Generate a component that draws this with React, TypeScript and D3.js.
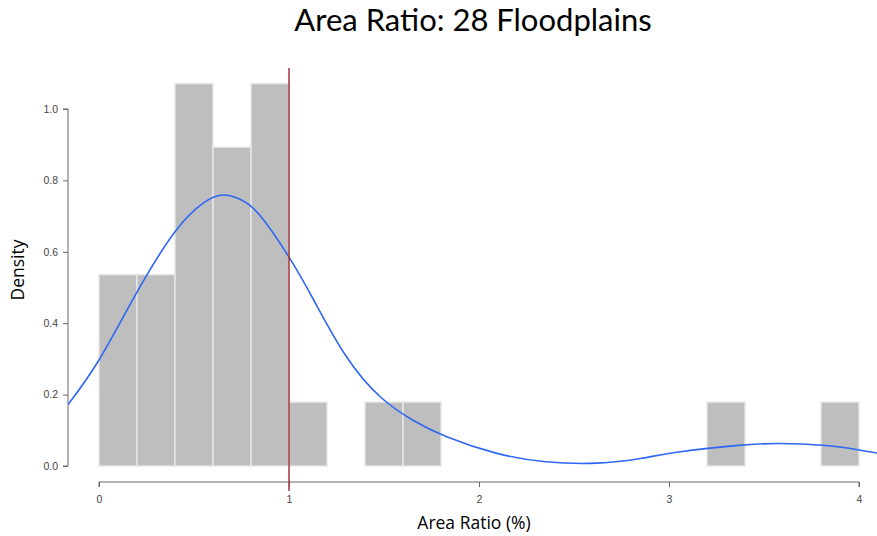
import React, { useRef, useEffect } from 'react';
import * as d3 from 'd3';

// histogram bins (width 0.2), density values
const binStarts = [0, 0.2, 0.4, 0.6, 0.8, 1.0, 1.4, 1.6, 3.2, 3.8];
const binDensity = [0.536, 0.536, 1.071, 0.893, 1.071, 0.179, 0.179, 0.179, 0.179, 0.179];
const binWidth = 0.2;

// kernel density curve
const curveX = [-0.163, 0, 0.2, 0.4, 0.55, 0.654, 0.75, 0.85, 1.0, 1.13, 1.3, 1.48, 1.65, 1.83, 2.09, 2.35, 2.62, 2.85, 3.06, 3.35, 3.57, 3.81, 4.0, 4.1];
const curveY = [0.172, 0.297, 0.487, 0.656, 0.737, 0.759, 0.745, 0.7, 0.585, 0.465, 0.308, 0.194, 0.129, 0.082, 0.036, 0.012, 0.008, 0.021, 0.040, 0.057, 0.063, 0.058, 0.045, 0.036];

const xTicks = [0, 1, 2, 3, 4];
const yTicks = [0, 0.2, 0.4, 0.6, 0.8, 1.0];
const refLine = 1;

const W = 877;
const H = 536;

export default function App() {
  const svgRef = useRef<SVGSVGElement>(null);

  useEffect(() => {
    if (!svgRef.current) return;
    const svg = d3.select(svgRef.current);
    svg.selectAll('*').remove();

    const x = d3.scaleLinear().domain([0, 4]).range([99, 859]);
    const y = d3.scaleLinear().domain([0, 1]).range([466, 109]);
    const axisY = 482;
    const axisX = 68;

    svg.append('rect').attr('width', W).attr('height', H).attr('fill', '#fff');

    // title
    svg.append('text')
      .attr('x', 473).attr('y', 31)
      .attr('text-anchor', 'middle')
      .attr('font-family', 'Lato, Open Sans, sans-serif')
      .attr('font-size', 31)
      .attr('fill', '#000')
      .text('Area Ratio: 28 Floodplains');

    // bars
    svg.append('g').selectAll('rect')
      .data(binStarts)
      .enter()
      .append('rect')
      .attr('x', d => x(d))
      .attr('y', (d, i) => y(binDensity[i]))
      .attr('width', x(binWidth) - x(0))
      .attr('height', (d, i) => y(0) - y(binDensity[i]))
      .attr('fill', '#bebebe')
      .attr('stroke', '#e6e6e6')
      .attr('stroke-width', 1.5);

    // y axis
    const ya = svg.append('g').attr('transform', `translate(${axisX},0)`)
      .call(d3.axisLeft(y).tickValues(yTicks).tickFormat(d3.format('.1f')).tickSize(5).tickPadding(5));
    ya.select('.domain').attr('stroke', '#666').attr('d', `M-5,${y(0)}H0V${y(1)}H-5`);
    ya.selectAll('.tick line').attr('stroke', '#666');
    ya.selectAll('.tick text')
      .attr('font-family', 'Liberation Sans, Arial, sans-serif')
      .attr('font-size', 10.5)
      .attr('fill', '#444');

    // x axis
    const xa = svg.append('g').attr('transform', `translate(0,${axisY})`)
      .call(d3.axisBottom(x).tickValues(xTicks).tickFormat(d3.format('d')).tickSize(5).tickPadding(9));
    xa.select('.domain').attr('stroke', '#666').attr('d', `M${x(0)},5V0H${x(4)}V5`);
    xa.selectAll('.tick line').attr('stroke', '#666');
    xa.selectAll('.tick text')
      .attr('font-family', 'Liberation Sans, Arial, sans-serif')
      .attr('font-size', 10.5)
      .attr('fill', '#444');

    // density curve
    svg.append('clipPath').attr('id', 'plotClip')
      .append('rect').attr('x', axisX).attr('y', 0).attr('width', W - axisX).attr('height', H);
    const line = d3.line<number>()
      .x(d => x(d))
      .y((d, i) => y(curveY[i]))
      .curve(d3.curveNatural);
    svg.append('path')
      .datum(curveX)
      .attr('clip-path', 'url(#plotClip)')
      .attr('fill', 'none')
      .attr('stroke', '#2e66f5')
      .attr('stroke-width', 1.6)
      .attr('d', line);

    // reference line at 1
    svg.append('line')
      .attr('x1', x(refLine)).attr('x2', x(refLine))
      .attr('y1', y(1.115)).attr('y2', axisY + 9)
      .attr('stroke', '#a8303a')
      .attr('stroke-width', 1.5);

    // axis titles
    svg.append('text')
      .attr('x', 474).attr('y', 529)
      .attr('text-anchor', 'middle')
      .attr('font-family', 'Open Sans, Noto Sans, sans-serif')
      .attr('font-size', 17.5)
      .text('Area Ratio (%)');
    svg.append('text')
      .attr('transform', 'translate(24,270) rotate(-90)')
      .attr('text-anchor', 'middle')
      .attr('font-family', 'Open Sans, Noto Sans, sans-serif')
      .attr('font-size', 17.5)
      .text('Density');
  }, []);

  return (
    <svg
      ref={svgRef}
      width={W}
      height={H}
      style={{ position: 'absolute', left: 0, top: 0, display: 'block' }}
    />
  );
}
